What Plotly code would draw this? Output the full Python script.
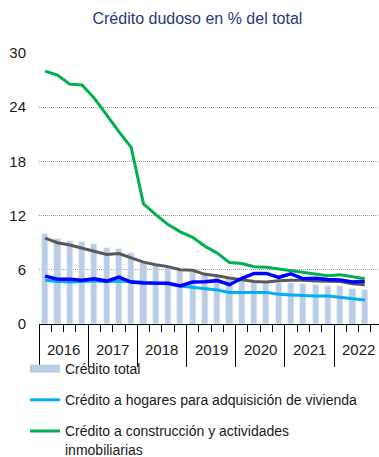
import plotly.graph_objects as go

# Quarterly periods, 2016-T1 .. 2022-T3
years = [2016, 2017, 2018, 2019, 2020, 2021, 2022]
year_labels = [str(y) for y in years]
periods = [f"{y}-T{q}" for y in years for q in range(1, 5)][:27]

# Doubtful credit as % of each portfolio
credito_total = [10.0, 9.4, 9.2, 9.1, 8.9, 8.45, 8.35, 7.85, 6.8, 6.5, 6.3, 6.0, 5.8,
                 5.6, 5.3, 5.1, 4.9, 4.55, 4.5, 4.5, 4.5, 4.43, 4.32, 4.26, 4.2, 3.87, 3.76]
hogares_vivienda = [4.85, 4.7, 4.65, 4.7, 4.75, 4.7, 4.75, 4.7, 4.6, 4.5, 4.45, 4.2, 4.05,
                    3.95, 3.76, 3.5, 3.47, 3.5, 3.5, 3.28, 3.2, 3.13, 3.1, 3.1, 2.95, 2.75, 2.65]
construccion_inmob = [28.0, 27.55, 26.55, 26.45, 25.0, 23.1, 21.3, 19.55, 13.3, 12.1, 11.0, 10.2, 9.6,
                      8.6, 7.85, 6.8, 6.7, 6.35, 6.27, 6.1, 5.9, 5.7, 5.55, 5.35, 5.45, 5.25, 5.0]
serie_gris = [9.5, 9.0, 8.75, 8.4, 8.1, 7.7, 7.8, 7.3, 6.85, 6.55, 6.35, 6.0, 5.95,
              5.5, 5.35, 5.1, 4.9, 4.7, 4.65, 4.8, 4.85, 4.85, 4.75, 4.75, 4.7, 4.45, 4.35]
serie_azul = [5.3, 4.95, 4.95, 4.85, 5.0, 4.75, 5.2, 4.65, 4.55, 4.5, 4.5, 4.22, 4.65,
              4.69, 4.8, 4.35, 5.06, 5.6, 5.6, 5.17, 5.55, 5.0, 5.06, 4.94, 4.87, 4.65, 4.74]

x = list(range(len(periods)))
year_bounds = [4 * i - 0.5 for i in range(len(years) + 1)]
year_centers = [4 * i + 1.5 for i in range(len(years))]

FONT = "Liberation Sans, Arial, sans-serif"
C_BAR = "#b9cde5"
C_HOG = "#00b0f0"
C_CON = "#00b050"
C_GRIS = "#595959"
C_AZUL = "#0000ff"

W, H = 379, 457
ML, MR, MT, MB = 39, 0, 53, 133

fig = go.Figure()

fig.add_trace(go.Bar(x=x, y=credito_total, width=0.5, marker_color=C_BAR,
                     name="Crédito total", showlegend=False, hovertext=periods))
# legend swatch for the bar series
fig.add_trace(go.Scatter(x=[None], y=[None], mode="lines", name="Crédito total",
                         line=dict(color=C_BAR, width=8), legendgroup="g1"))
fig.add_trace(go.Scatter(x=x, y=hogares_vivienda, mode="lines", line=dict(color=C_HOG, width=3),
                         name="Crédito a hogares para adquisición de vivienda",
                         legendgroup="g2", hovertext=periods))
fig.add_trace(go.Scatter(x=x, y=serie_gris, mode="lines", line=dict(color=C_GRIS, width=3),
                         showlegend=False, hovertext=periods))
fig.add_trace(go.Scatter(x=x, y=serie_azul, mode="lines", line=dict(color=C_AZUL, width=3.5),
                         showlegend=False, hovertext=periods))
fig.add_trace(go.Scatter(x=x, y=construccion_inmob, mode="lines", line=dict(color=C_CON, width=3),
                         name="Crédito a construcción y actividades<br>inmobiliarias",
                         legendgroup="g3", hovertext=periods))

x_range = [-0.5, 27.16]

# year labels centred under each year's four quarters
annotations = [dict(x=c, y=0, xref="x", yref="paper", text=lbl, showarrow=False,
                    yanchor="middle", xanchor="center", yshift=-25,
                    font=dict(family=FONT, size=15, color="#1a1a1a"))
               for c, lbl in zip(year_centers, year_labels)]

fig.update_layout(
    width=W, height=H,
    margin=dict(l=ML, r=MR, t=MT, b=MB, autoexpand=False),
    paper_bgcolor="white", plot_bgcolor="white",
    font=dict(family=FONT, size=15, color="#1a1a1a"),
    title=dict(text="Crédito dudoso en % del total", xref="container", yref="container",
               x=0.521, xanchor="center", y=1 - 18 / H, yanchor="middle",
               font=dict(family=FONT, size=16, color="#1f3a7a")),
    bargap=0,
    showlegend=True,
    legend=dict(xref="container", yref="container", x=25 / W, xanchor="left",
                y=1 - 353 / H, yanchor="top", orientation="v",
                traceorder="grouped", tracegroupgap=10, valign="top",
                font=dict(family=FONT, size=14, color="#1a1a1a"),
                bgcolor="rgba(0,0,0,0)", itemwidth=30),
    annotations=annotations,
    xaxis=dict(range=x_range, showgrid=False, zeroline=False,
               showline=True, linecolor="black", linewidth=1,
               tickmode="array", tickvals=year_bounds, ticks="outside",
               ticklen=42, tickwidth=1, tickcolor="black", showticklabels=False,
               minor=dict(dtick=1, tick0=-0.5, ticks="outside",
                          ticklen=7, tickwidth=1, tickcolor="black", showgrid=False)),
    yaxis=dict(range=[0, 30], tickmode="array", tickvals=[0, 6, 12, 18, 24, 30],
               showgrid=True, gridcolor="#9a9a9a", gridwidth=1, griddash="1px,1px",
               zeroline=False, showline=False, ticks="", ticklabelstandoff=12,
               tickfont=dict(family=FONT, size=15, color="#1a1a1a")),
)

fig.write_html("out.html")
